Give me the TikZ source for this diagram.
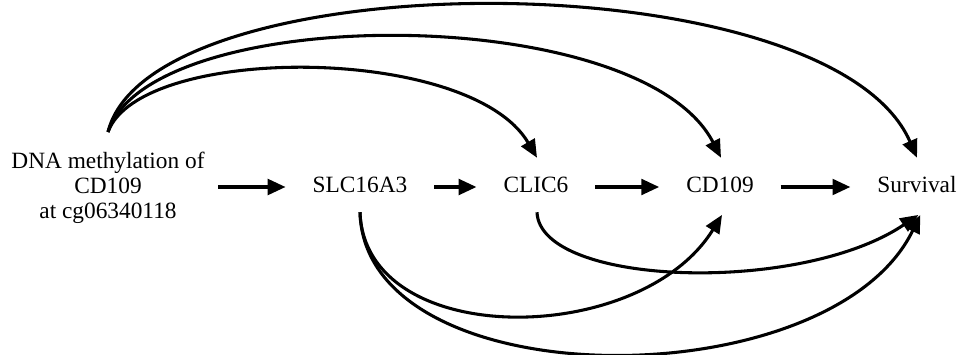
\documentclass[tikz,border=0pt]{standalone}
\usepackage{fontspec}
\setmainfont{Liberation Serif}
\usetikzlibrary{arrows.meta}
\begin{document}
\begin{tikzpicture}[x=0.75pt,y=-0.75pt,
  lbl/.style={inner sep=0pt,font=\fontsize{17.5}{18.75}\selectfont,text height=12pt,text depth=3.5pt},
  dnalbl/.style={inner sep=0pt,align=center,font=\fontsize{17.5}{18.75}\selectfont},
  flow/.style={line width=3pt,-{Triangle[length=13.5pt,width=11.5pt]},shorten <=20pt,shorten >=20pt},
  curv/.style={line width=2.3pt,-{Triangle[length=13.5pt,width=11.5pt]}}]
\useasboundingbox (0,0) rectangle (961,354);
\node[dnalbl] (dna) at (108,188) {DNA methylation of\\CD109\\at cg06340118};
\node[lbl] (slc) at (360,187) {SLC16A3};
\node[lbl] (clic) at (536,187) {CLIC6};
\node[lbl] (cd) at (720,187) {CD109};
\node[lbl] (surv) at (917,187) {Survival};
% straight arrows
\draw[flow,shorten <=10pt] (dna.east |- slc) -- (slc);
\draw[flow] (slc) -- (clic);
\draw[flow] (clic) -- (cd);
\draw[flow] (cd) -- (surv);
% upper curves
\draw[curv] ([yshift=15pt]dna.north) .. controls +(32,-88) and +(-67,-114) .. ([xshift=0.75pt,yshift=14pt]clic.north);
\draw[curv] ([yshift=15pt]dna.north) .. controls +(42,-130) and +(-81,-157) .. ([xshift=0.75pt,yshift=14pt]cd.north);
\draw[curv] ([yshift=15pt]dna.north) .. controls +(42,-172) and +(-87,-200) .. ([yshift=14pt]surv.north);
% lower curves
\draw[curv] ([yshift=-11pt]slc.south) .. controls +(5,138) and +(-82,133) .. ([xshift=1.5pt,yshift=-13pt]cd.south);
\draw[curv] ([yshift=-11pt]slc.south) .. controls +(5,188) and +(-90,185) .. ([xshift=2.5pt,yshift=-13pt]surv.south);
\draw[curv] ([xshift=0.75pt,yshift=-11pt]clic.south) .. controls +(3,74) and +(-118,80) .. ([xshift=1pt,yshift=-13pt]surv.south);
\end{tikzpicture}
\end{document}
